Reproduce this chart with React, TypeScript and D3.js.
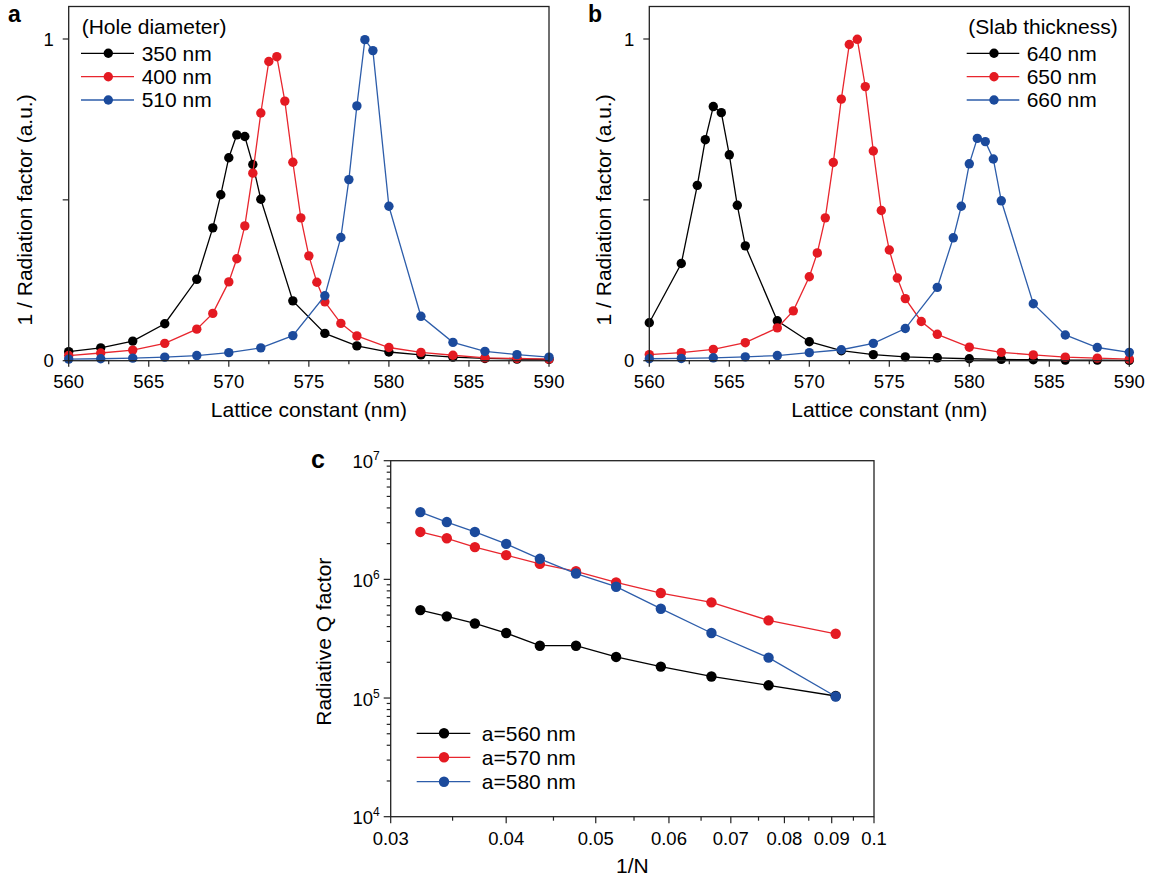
import React from 'react';
import * as d3 from 'd3';

// ---------- Panel a: hole diameter ----------
const aX350 = [560, 562, 564, 566, 568, 569, 569.5, 570, 570.5, 571, 571.5, 572, 574, 576, 578, 580, 582, 584, 586, 588, 590];
const aY350 = [0.028, 0.040, 0.061, 0.115, 0.253, 0.413, 0.516, 0.631, 0.702, 0.697, 0.610, 0.502, 0.186, 0.085, 0.046, 0.027, 0.018, 0.011, 0.007, 0.005, 0.004];
const aX400 = [560, 562, 564, 566, 568, 569, 570, 570.5, 571, 571.5, 572, 572.5, 573, 573.5, 574, 574.5, 575, 575.5, 576, 577, 578, 580, 582, 584, 586, 588, 590];
const aY400 = [0.016, 0.024, 0.033, 0.054, 0.098, 0.147, 0.245, 0.317, 0.419, 0.583, 0.770, 0.930, 0.945, 0.807, 0.617, 0.444, 0.326, 0.244, 0.183, 0.116, 0.077, 0.041, 0.026, 0.017, 0.009, 0.007, 0.005];
const aX510 = [560, 562, 564, 566, 568, 570, 572, 574, 576, 577, 577.5, 578, 578.5, 579, 580, 582, 584, 586, 588, 590];
const aY510 = [0.005, 0.006, 0.008, 0.011, 0.016, 0.025, 0.040, 0.078, 0.202, 0.383, 0.563, 0.792, 0.998, 0.964, 0.480, 0.138, 0.057, 0.029, 0.019, 0.011];

// ---------- Panel b: slab thickness ----------
const bX640 = [560, 562, 563, 563.5, 564, 564.5, 565, 565.5, 566, 568, 570, 572, 574, 576, 578, 580, 582, 584, 586, 588, 590];
const bY640 = [0.118, 0.302, 0.545, 0.687, 0.790, 0.771, 0.640, 0.483, 0.357, 0.124, 0.059, 0.031, 0.019, 0.012, 0.009, 0.006, 0.004, 0.003, 0.002, 0.002, 0.001];
const bX650 = [560, 562, 564, 566, 568, 569, 570, 570.5, 571, 571.5, 572, 572.5, 573, 573.5, 574, 574.5, 575, 575.5, 576, 577, 578, 580, 582, 584, 586, 588, 590];
const bY650 = [0.019, 0.025, 0.035, 0.056, 0.102, 0.155, 0.261, 0.335, 0.444, 0.616, 0.813, 0.983, 0.999, 0.852, 0.652, 0.467, 0.344, 0.257, 0.193, 0.122, 0.082, 0.042, 0.026, 0.018, 0.011, 0.008, 0.005];
const bX660 = [560, 562, 564, 566, 568, 570, 572, 574, 576, 578, 579, 579.5, 580, 580.5, 581, 581.5, 582, 584, 586, 588, 590];
const bY660 = [0.006, 0.007, 0.009, 0.012, 0.016, 0.025, 0.034, 0.054, 0.100, 0.228, 0.382, 0.480, 0.612, 0.691, 0.681, 0.627, 0.497, 0.177, 0.080, 0.041, 0.026];

// ---------- Panel c: radiative Q vs 1/N ----------
const cInvN = [0.0323, 0.0345, 0.0370, 0.0400, 0.0435, 0.0476, 0.0526, 0.0588, 0.0667, 0.0769, 0.0909];
const cQ560 = [5.51e5, 4.88e5, 4.25e5, 3.53e5, 2.76e5, 2.76e5, 2.22e5, 1.84e5, 1.52e5, 1.28e5, 1.04e5];
const cQ570 = [2.51e6, 2.22e6, 1.87e6, 1.60e6, 1.35e6, 1.17e6, 9.44e5, 7.67e5, 6.40e5, 4.51e5, 3.48e5];
const cQ580 = [3.69e6, 3.04e6, 2.51e6, 1.99e6, 1.49e6, 1.12e6, 8.67e5, 5.66e5, 3.53e5, 2.19e5, 1.03e5];

// ---------- ticks / labels ----------
const latticeMajor = [560, 565, 570, 575, 580, 585, 590];
const latticeMinor = [562.5, 567.5, 572.5, 577.5, 582.5, 587.5];
const radTicks = [0, 0.5, 1];
const radLabels = ['0', '', '1'];
const invNMajor = [0.03, 0.04, 0.05, 0.06, 0.07, 0.08, 0.09, 0.1];
const invNLabels = ['0.03', '0.04', '0.05', '0.06', '0.07', '0.08', '0.09', '0.1'];
const invNMinor = [0.035, 0.045, 0.055, 0.065, 0.075, 0.085, 0.095];
const qDecades = [1e4, 1e5, 1e6, 1e7];
const qExponents = ['4', '5', '6', '7'];

const legendA = ['350 nm', '400 nm', '510 nm'];
const legendB = ['640 nm', '650 nm', '660 nm'];
const legendC = ['a=560 nm', 'a=570 nm', 'a=580 nm'];

const FONT = 'Liberation Sans, Arial, Helvetica, sans-serif';
const MARK = ['#000000', '#e41a22', '#1b4a9c'];
const LINE = ['#000000', '#e8262e', '#2d5daa'];
const FRAME = '#222';

type Series = { xs: number[]; ys: number[] };

function Markers({ s, x, y, i, r }: { s: Series; x: any; y: any; i: number; r: number }) {
  const pts = s.xs.map((v, k) => [x(v), y(s.ys[k])] as [number, number]);
  const line = d3.line();
  return (
    <g>
      <path d={line(pts) || ''} fill="none" stroke={LINE[i]} strokeWidth={1.3} />
      {pts.map((p, k) => (
        <circle key={k} cx={p[0]} cy={p[1]} r={r} fill={MARK[i]} />
      ))}
    </g>
  );
}

function Legend({ x0, x1, xm, xt, ys, labels, r }: { x0: number; x1: number; xm: number; xt: number; ys: number[]; labels: string[]; r: number }) {
  return (
    <g>
      {labels.map((lab, i) => (
        <g key={i}>
          <line x1={x0} x2={x1} y1={ys[i]} y2={ys[i]} stroke={LINE[i]} strokeWidth={1.3} />
          <circle cx={xm} cy={ys[i]} r={r} fill={MARK[i]} />
          <text x={xt} y={ys[i] + 7.3} fontSize={21} fontFamily={FONT}>{lab}</text>
        </g>
      ))}
    </g>
  );
}

function LatticePanel({ left, right, top, bottom, y0, y1, series, letter, letterX, titleX, legend }: any) {
  const x = d3.scaleLinear().domain([560, 590]).range([left, right]);
  const y = d3.scaleLinear().domain([0, 1]).range([y0, y1]);
  const cx = (left + right) / 2;
  const cy = (y(0) + y(1) + 20) / 2;
  return (
    <g>
      <text x={letterX} y={21.5} fontSize={23} fontWeight="bold" fontFamily={FONT}>{letter}</text>
      {series.map((s: Series, i: number) => (
        <Markers key={i} s={s} x={x} y={y} i={i} r={4.7} />
      ))}
      <rect x={left} y={top} width={right - left} height={bottom - top} fill="none" stroke={FRAME} strokeWidth={1.3} />
      {latticeMajor.map((t) => (
        <g key={t}>
          <line x1={x(t)} x2={x(t)} y1={bottom} y2={bottom + 6} stroke={FRAME} strokeWidth={1.2} />
          <text x={x(t)} y={bottom + 27.5} textAnchor="middle" fontSize={18.5} fontFamily={FONT}>{t}</text>
        </g>
      ))}
      {latticeMinor.map((t) => (
        <line key={t} x1={x(t)} x2={x(t)} y1={bottom} y2={bottom + 3.5} stroke={FRAME} strokeWidth={1.2} />
      ))}
      {radTicks.map((t, i) => (
        <g key={t}>
          <line x1={left} x2={left - 6} y1={y(t)} y2={y(t)} stroke={FRAME} strokeWidth={1.2} />
          <text x={left - 15} y={y(t) + 6.5} textAnchor="end" fontSize={18.5} fontFamily={FONT}>{radLabels[i]}</text>
        </g>
      ))}
      <text x={cx} y={417} textAnchor="middle" fontSize={21} fontFamily={FONT}>Lattice constant (nm)</text>
      <text transform={`translate(${titleX},${cy}) rotate(-90)`} textAnchor="middle" fontSize={21} fontFamily={FONT}>1 / Radiation factor (a.u.)</text>
      {legend}
    </g>
  );
}

export default function App() {
  const top = 6.5;
  const bottom = 360.7;
  const y0 = 360.7;
  const y1 = 39;
  const legendRows = [53.3, 76.7, 100];

  const aSeries: Series[] = [
    { xs: aX350, ys: aY350 },
    { xs: aX400, ys: aY400 },
    { xs: aX510, ys: aY510 },
  ];
  const bSeries: Series[] = [
    { xs: bX640, ys: bY640 },
    { xs: bX650, ys: bY650 },
    { xs: bX660, ys: bY660 },
  ];
  const cSeries: Series[] = [
    { xs: cInvN, ys: cQ560 },
    { xs: cInvN, ys: cQ570 },
    { xs: cInvN, ys: cQ580 },
  ];

  // panel c scales
  const cL = 390.7, cR = 874, cT = 460.7, cB = 816.7;
  const cx = d3.scaleLog().domain([0.03, 0.1]).range([cL, cR]);
  const cy = d3.scaleLog().domain([1e4, 1e7]).range([cB, cT]);
  const minorQ: number[] = [];
  qDecades.slice(0, 3).forEach((d) => {
    for (let m = 2; m <= 9; m++) minorQ.push(d * m);
  });

  return (
    <svg width={1151} height={882} style={{ position: 'absolute', left: 0, top: 0, background: '#fff' }}>
      <rect x={0} y={0} width={1151} height={882} fill="#fff" />
      <LatticePanel
        left={68.7} right={549} top={top} bottom={bottom} y0={y0} y1={y1}
        series={aSeries} letter="a" letterX={8} titleX={31.5}
        legend={
          <g>
            <text x={81.7} y={34} fontSize={21} fontFamily={FONT}>(Hole diameter)</text>
            <Legend x0={81} x1={134} xm={108.3} xt={141.7} ys={legendRows} labels={legendA} r={4.7} />
          </g>
        }
      />
      <LatticePanel
        left={649.3} right={1129.3} top={top} bottom={bottom} y0={y0} y1={y1}
        series={bSeries} letter="b" letterX={588} titleX={610.6}
        legend={
          <g>
            <text x={968.3} y={34} fontSize={21} fontFamily={FONT}>(Slab thickness)</text>
            <Legend x0={966.7} x1={1019.3} xm={994} xt={1026.7} ys={legendRows} labels={legendB} r={4.7} />
          </g>
        }
      />

      {/* Panel c */}
      <g>
        <text x={311} y={468.3} fontSize={25} fontWeight="bold" fontFamily={FONT}>c</text>
        {cSeries.map((s, i) => (
          <Markers key={i} s={s} x={cx} y={cy} i={i} r={5.2} />
        ))}
        <rect x={cL} y={cT} width={cR - cL} height={cB - cT} fill="none" stroke={FRAME} strokeWidth={1.3} />
        {invNMajor.map((t, i) => (
          <g key={t}>
            <line x1={cx(t)} x2={cx(t)} y1={cB} y2={cB + 6.5} stroke={FRAME} strokeWidth={1.2} />
            <text x={cx(t)} y={845} textAnchor="middle" fontSize={18.5} fontFamily={FONT}>{invNLabels[i]}</text>
          </g>
        ))}
        {invNMinor.map((t) => (
          <line key={t} x1={cx(t)} x2={cx(t)} y1={cB} y2={cB + 4} stroke={FRAME} strokeWidth={1.2} />
        ))}
        {qDecades.map((d, i) => (
          <g key={d}>
            <line x1={cL} x2={cL - 7} y1={cy(d)} y2={cy(d)} stroke={FRAME} strokeWidth={1.2} />
            <text x={cL - 11} y={cy(d) + 7.5} textAnchor="end" fontSize={18.5} fontFamily={FONT}>
              10<tspan fontSize={12} dy={-8}>{qExponents[i]}</tspan>
            </text>
          </g>
        ))}
        {minorQ.map((t) => (
          <line key={t} x1={cL} x2={cL - 4} y1={cy(t)} y2={cy(t)} stroke={FRAME} strokeWidth={1.2} />
        ))}
        <text x={(cL + cR) / 2} y={873} textAnchor="middle" fontSize={21} fontFamily={FONT}>1/N</text>
        <text transform={`translate(330.6,641.7) rotate(-90)`} textAnchor="middle" fontSize={21} fontFamily={FONT}>Radiative Q factor</text>
        <Legend x0={416.7} x1={470.3} xm={444} xt={481.8} ys={[733.3, 757.3, 781.7]} labels={legendC} r={5.2} />
      </g>
    </svg>
  );
}
